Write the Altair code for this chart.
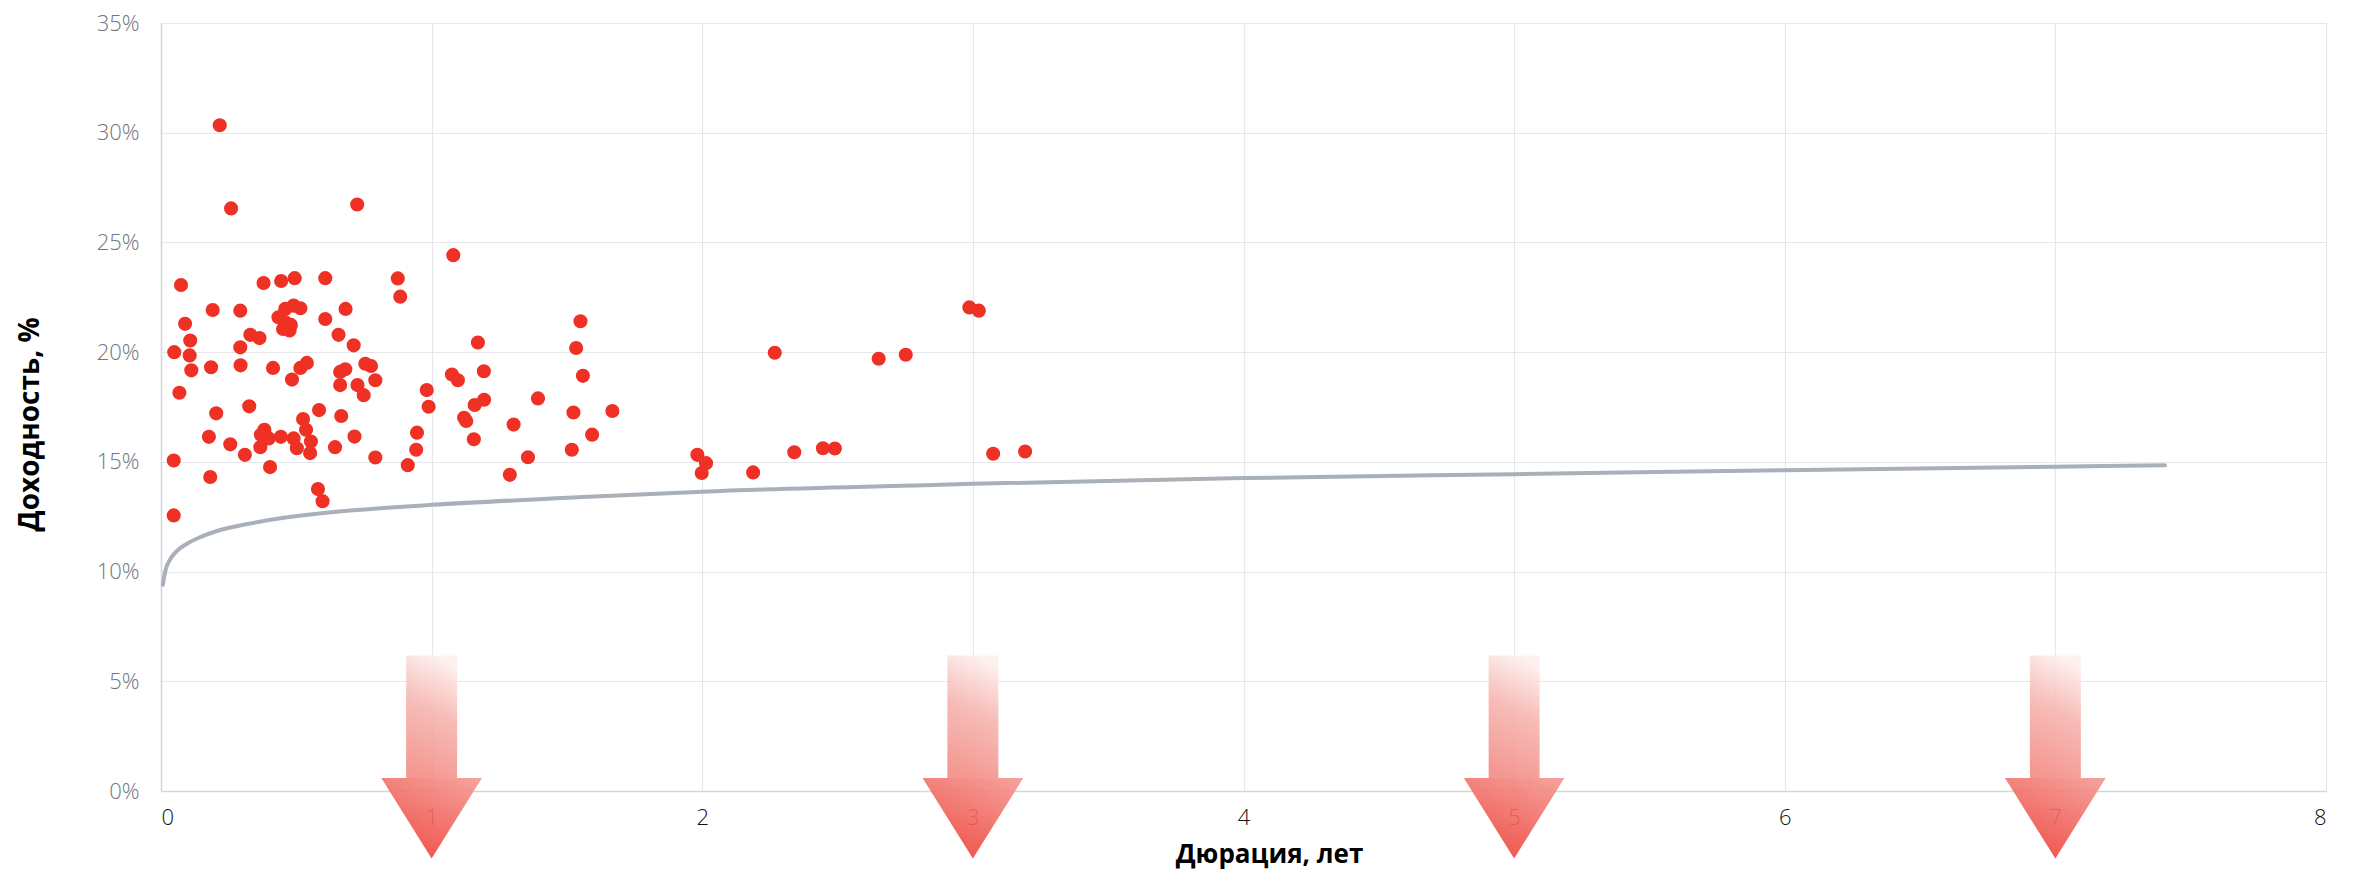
import altair as alt
import pandas as pd

# ---- data ----
duration = [0.217, 0.259, 0.725, 1.080, 0.074, 0.379, 0.444, 0.494, 0.607, 0.875, 0.884,
            0.191, 0.293, 0.089, 0.108, 0.106, 0.049, 0.112, 0.068, 0.047, 0.047, 0.185,
            0.293, 0.294, 0.330, 0.364, 0.414, 0.204, 0.326, 0.177, 0.256, 0.310, 0.182,
            0.403, 0.382, 0.369, 0.367, 0.398, 0.443, 0.490, 0.502, 0.525, 0.536, 0.554,
            0.551, 0.584, 0.643, 0.666, 0.715, 0.792, 0.580, 0.597, 0.490, 0.515, 0.459,
            0.434, 0.459, 0.480, 0.451, 0.475, 0.607, 0.682, 0.656, 0.712, 0.539, 0.515,
            0.484, 0.662, 0.681, 0.662, 0.726, 0.749, 0.755, 0.776, 0.792, 0.982, 0.989,
            0.946, 0.943, 0.912,
            1.550, 1.171, 1.534, 1.075, 1.097, 1.193, 1.559, 1.194, 1.159, 1.393, 1.524,
            1.668, 1.120, 1.128, 1.303, 1.156, 1.593, 1.356, 1.518, 1.289, 1.982, 2.014,
            1.998, 2.188, 2.268, 2.340, 2.446, 2.490, 2.652, 2.752,
            2.987, 3.022, 3.075, 3.193]
yield_pct = [30.34, 26.55, 26.73, 24.42, 23.06, 23.15, 23.24, 23.37, 23.37, 23.36, 22.53,
             21.92, 21.89, 21.29, 20.53, 19.85, 20.00, 19.17, 18.15, 15.06, 12.56, 19.31,
             20.22, 19.40, 20.79, 20.64, 19.28, 17.21, 17.53, 16.14, 15.80, 15.32, 14.31,
             14.76, 16.46, 16.23, 15.67, 16.07, 16.14, 16.07, 15.62, 16.95, 16.46, 15.93,
             15.40, 17.36, 15.67, 17.09, 16.15, 15.20, 13.76, 13.21, 22.12, 22.00, 21.97,
             21.59, 21.36, 21.24, 21.06, 20.99, 21.51, 21.97, 20.79, 20.31, 19.51, 19.28,
             18.75, 19.10, 19.22, 18.50, 18.50, 18.04, 19.47, 19.37, 18.72, 18.27, 17.51,
             16.33, 15.55, 14.85,
             21.41, 20.44, 20.19, 18.98, 18.72, 19.13, 18.92, 17.83, 17.59, 17.89, 17.25,
             17.32, 17.01, 16.86, 16.70, 16.03, 16.24, 15.21, 15.55, 14.41, 15.32, 14.94,
             14.49, 14.52, 19.97, 15.44, 15.62, 15.61, 19.70, 19.88,
             22.04, 21.89, 15.37, 15.47]

curve_x = [0.007, 0.016, 0.034, 0.059, 0.096, 0.145, 0.207, 0.330, 0.453, 0.576, 0.699,
           0.822, 1.0, 1.623, 2.0, 2.879, 3.0, 4.0, 5.0, 6.0, 7.0, 7.405]
curve_y = [9.40, 10.03, 10.56, 10.94, 11.27, 11.57, 11.85, 12.19, 12.45, 12.63, 12.78,
           12.90, 13.04, 13.43, 13.64, 13.96, 14.00, 14.26, 14.44, 14.62, 14.78, 14.84]

arrow_positions = [1, 3, 5, 7]
y_ticks = [0, 5, 10, 15, 20, 25, 30, 35]
x_ticks = [0, 1, 2, 3, 4, 5, 6, 7, 8]

# ---- tables ----
pts = pd.DataFrame({"d": duration, "y": yield_pct})
curve = pd.DataFrame({"d": curve_x, "y": curve_y})

# arrow shape (geometry in data units)
SH, HH = 0.0942, 0.186          # shaft / head half widths
TOP, NECK, TIP = 6.18, 0.59, -3.08
shafts = pd.DataFrame({"x1": [a - SH for a in arrow_positions],
                       "x2": [a + SH for a in arrow_positions],
                       "t": [TOP] * len(arrow_positions),
                       "b": [NECK] * len(arrow_positions)})
head_rows = []
for a in arrow_positions:
    for dx, bot in [(-HH, NECK), (0, TIP), (HH, NECK)]:
        head_rows.append({"arrow": a, "x": a + dx, "top": NECK, "bot": bot})
heads = pd.DataFrame(head_rows)

xscale = alt.Scale(domain=[0, 8], nice=False, zero=False)
yscale = alt.Scale(domain=[0, 35], nice=False, zero=False)

FONT = "Open Sans"

xaxis = alt.Axis(values=x_ticks, format="d", title="Дюрация, лет", labelFont=FONT,
                 labelFontSize=22, labelFontWeight=300, labelColor="#111111",
                 labelPadding=16, ticks=False, domainColor="#d4d6da", domainWidth=1.5,
                 gridColor="#e5e7ea", gridWidth=1.2,
                 titleFont=FONT, titleFontSize=26, titleFontWeight="bold",
                 titleColor="#000000", titleX=1108, titleY=63, titleBaseline="middle")
yaxis = alt.Axis(values=y_ticks, title="Доходность, %", labelExpr="datum.value + '%'",
                 labelFont=FONT, labelFontSize=22, labelFontWeight=300,
                 labelColor="#6f7680", labelPadding=22, ticks=False,
                 domainColor="#d4d6da", domainWidth=1.5,
                 gridColor="#e5e7ea", gridWidth=1.2,
                 titleFont=FONT, titleFontSize=28, titleFontWeight="bold",
                 titleColor="#000000", titleX=-131, titleY=401, titleBaseline="middle",
                 titleAlign="center", titleAngle=270)

base_points = alt.Chart(pts).mark_circle(size=200, color="#ee3124", opacity=1).encode(
    x=alt.X("d:Q", scale=xscale, axis=xaxis),
    y=alt.Y("y:Q", scale=yscale, axis=yaxis),
)

line = alt.Chart(curve).mark_line(color="#a9b0b9", strokeWidth=4, interpolate="monotone",
                                  strokeCap="round").encode(
    x=alt.X("d:Q", scale=xscale),
    y=alt.Y("y:Q", scale=yscale),
)

shaft_grad = alt.LinearGradient(
    gradient="linear",
    stops=[alt.GradientStop(color="#fdf0ef", offset=0),
           alt.GradientStop(color="#f6b3ae", offset=0.45),
           alt.GradientStop(color="#f28a82", offset=1)],
    x1=0.6, y1=0, x2=0.4, y2=1,
)
head_grad = alt.LinearGradient(
    gradient="linear",
    stops=[alt.GradientStop(color="#f4968f", offset=0),
           alt.GradientStop(color="#ed4139", offset=1)],
    x1=0.9, y1=0, x2=0.35, y2=1,
)

shaft_layer = alt.Chart(shafts).mark_rect(fill=shaft_grad, opacity=0.88, clip=False).encode(
    x=alt.X("x1:Q", scale=xscale),
    x2="x2:Q",
    y=alt.Y("t:Q", scale=yscale),
    y2="b:Q",
)

head_layer = alt.Chart(heads).mark_area(fill=head_grad, opacity=0.9, clip=False,
                                        interpolate="linear").encode(
    x=alt.X("x:Q", scale=xscale),
    y=alt.Y("top:Q", scale=yscale),
    y2="bot:Q",
    detail="arrow:N",
)

chart = alt.layer(base_points, line, shaft_layer, head_layer).properties(
    width=2165, height=768,
    autosize=alt.AutoSizeParams(type="none"),
    padding={"left": 153, "top": 15, "right": 23, "bottom": 84},
).configure_view(stroke=None).configure(background="white")

chart.save("out.html", embed_options={"renderer": "svg", "actions": False})
